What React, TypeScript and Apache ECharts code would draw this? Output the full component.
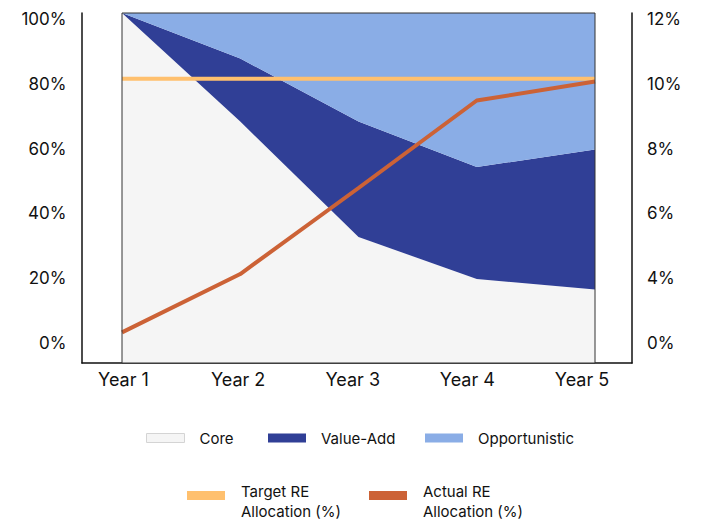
import React, { useEffect, useRef } from "react";
import * as echarts from "echarts";

const years = ["Year 1", "Year 2", "Year 3", "Year 4", "Year 5"];
const core = [100, 69, 36, 24, 21];
const valueAdd = [0, 18, 33, 32, 40];
const opportunistic = [0, 13, 31, 44, 39];
const targetRE = [9.75, 9.75, 9.75, 9.75, 9.75];
const actualRE = [1.05, 3.05, 6.0, 9.0, 9.65];
const leftTickLabels = ["0%", "20%", "40%", "60%", "80%", "100%"];
const rightTickLabels = ["0%", "4%", "6%", "8%", "10%", "12%"];

const FONT = "Inter";
const TXT = "#111111";

export default function App() {
  const ref = useRef<HTMLDivElement>(null);
  useEffect(() => {
    if (!ref.current) return;
    const chart = echarts.init(ref.current, undefined, { renderer: "svg" });
    const hidden = {
      axisLine: { show: false },
      axisTick: { show: false },
      axisLabel: { show: false },
      splitLine: { show: false },
    };
    const row1Legend = (name: string, left: number, extra: any = {}) => ({
      left, top: 429, padding: 0, icon: "rect", itemWidth: 38, itemHeight: 9,
      textStyle: { fontSize: 15, fontFamily: FONT, color: TXT, lineHeight: 18, padding: [0, 0, 0, 10] },
      data: [{ name, ...extra }],
    });
    const row2Legend = (name: string, left: number) => ({
      left, top: 484, padding: 0, icon: "rect", itemWidth: 38, itemHeight: 9,
      textStyle: {
        fontSize: 15, fontFamily: FONT, color: TXT, padding: [0, 0, 0, 11],
        rich: {
          a: { fontSize: 15, fontFamily: FONT, color: TXT, lineHeight: 32 },
          b: { fontSize: 15, fontFamily: FONT, color: TXT, lineHeight: 8 },
        },
      },
      formatter: (n: string) => {
        const i = n.indexOf(" Allocation");
        return "{a|" + n.slice(0, i) + "}\n{b|" + n.slice(i + 1) + "}";
      },
      data: [name],
    });
    const option: any = {
      animation: false,
      backgroundColor: "#ffffff",
      grid: [
        { left: 122, right: 106, top: 13, bottom: 158, show: true, z: 10, backgroundColor: "transparent", borderColor: "#333333", borderWidth: 1 },
        { left: 123.5, right: 119, top: 19, bottom: 178 },
        { left: 82, right: 69, top: 13, bottom: 158 },
      ],
      xAxis: [
        { type: "category", gridIndex: 0, data: years, boundaryGap: false, ...hidden },
        {
          type: "category", gridIndex: 1, data: years, boundaryGap: false,
          axisLine: { show: false }, axisTick: { show: false }, splitLine: { show: false },
          axisLabel: { margin: 27, fontSize: 18, fontFamily: FONT, color: TXT },
        },
        {
          type: "value", gridIndex: 2, min: 0, max: 1, position: "bottom",
          axisLine: { show: true, lineStyle: { color: "#111", width: 1.5 } },
          axisTick: { show: false }, axisLabel: { show: false }, splitLine: { show: false },
        },
      ],
      yAxis: [
        { type: "value", gridIndex: 0, min: 0, max: 100, ...hidden },
        { type: "value", gridIndex: 0, min: 0, max: 12, position: "right", ...hidden },
        {
          type: "category", gridIndex: 1, data: leftTickLabels, boundaryGap: false, position: "left",
          axisLine: { show: false }, axisTick: { show: false }, splitLine: { show: false },
          axisLabel: { margin: 57, fontSize: 17, fontFamily: FONT, color: TXT },
        },
        {
          type: "category", gridIndex: 1, data: rightTickLabels, boundaryGap: false, position: "right",
          axisLine: { show: false }, axisTick: { show: false }, splitLine: { show: false },
          axisLabel: { margin: 65, fontSize: 17, fontFamily: FONT, color: TXT },
        },
        {
          type: "value", gridIndex: 2, min: 0, max: 1, position: "left",
          axisLine: { show: true, onZero: false, lineStyle: { color: "#111", width: 1.5 } },
          axisTick: { show: false }, axisLabel: { show: false }, splitLine: { show: false },
        },
        {
          type: "value", gridIndex: 2, min: 0, max: 1, position: "right",
          axisLine: { show: true, onZero: false, lineStyle: { color: "#111", width: 1.5 } },
          axisTick: { show: false }, axisLabel: { show: false }, splitLine: { show: false },
        },
      ],
      legend: [
        row1Legend("Core", 146, { itemStyle: { borderColor: "#d4d4d4", borderWidth: 1 } }),
        row1Legend("Value-Add", 268),
        row1Legend("Opportunistic", 425),
        row2Legend("Target RE Allocation (%)", 187),
        row2Legend("Actual RE Allocation (%)", 369),
      ],
      series: [
        {
          name: "Core", type: "line", stack: "alloc", data: core, symbol: "none",
          xAxisIndex: 0, yAxisIndex: 0, color: "#f5f5f5",
          lineStyle: { width: 0 }, areaStyle: { color: "#f5f5f5", opacity: 1 },
        },
        {
          name: "Value-Add", type: "line", stack: "alloc", data: valueAdd, symbol: "none",
          xAxisIndex: 0, yAxisIndex: 0, color: "#303f96",
          lineStyle: { width: 0 }, areaStyle: { color: "#303f96", opacity: 1 },
        },
        {
          name: "Opportunistic", type: "line", stack: "alloc", data: opportunistic, symbol: "none",
          xAxisIndex: 0, yAxisIndex: 0, color: "#8aade6",
          lineStyle: { width: 0 }, areaStyle: { color: "#8aade6", opacity: 1 },
        },
        {
          name: "Target RE Allocation (%)", type: "line", data: targetRE, symbol: "none",
          xAxisIndex: 0, yAxisIndex: 1, color: "#ffc06e",
          lineStyle: { width: 4, color: "#ffc06e" },
        },
        {
          name: "Actual RE Allocation (%)", type: "line", data: actualRE, symbol: "none",
          xAxisIndex: 0, yAxisIndex: 1, color: "#cc6236",
          lineStyle: { width: 4, color: "#cc6236" },
        },
      ],
    };
    chart.setOption(option);
    return () => chart.dispose();
  }, []);
  return (
    <div
      ref={ref}
      style={{ position: "fixed", left: 0, top: 0, width: 701, height: 521, background: "#fff" }}
    />
  );
}
